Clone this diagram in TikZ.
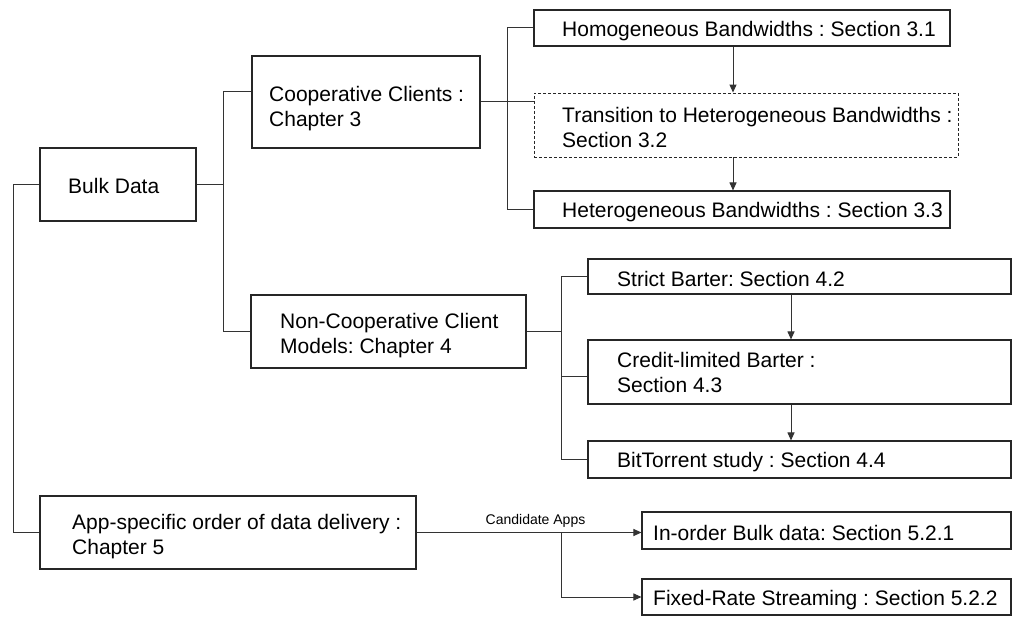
\documentclass[tikz,border=0pt]{standalone}
\usepackage{fontspec}
\setmainfont{Liberation Sans}
\usetikzlibrary{arrows.meta}
\frenchspacing
\begin{document}
\begin{tikzpicture}[x=1pt,y=-1pt,
  box/.style={draw=black!85, line width=1.1pt, inner sep=0pt, fill=white},
  dbox/.style={box, line width=0.9pt, dash pattern=on 3pt off 2pt},
  txt/.style={anchor=west, inner sep=0pt, align=left, font=\fontsize{21}{25}\selectfont},
  small/.style={inner sep=0pt, font=\fontsize{14}{16}\selectfont},
  wire/.style={draw=black!80, line width=1pt},
  arr/.style={wire, -{Triangle[length=8pt,width=7pt]}}]
\useasboundingbox[fill=white] (0,0) rectangle (1012,617);

% chapter level
\node[box, minimum width=156pt, minimum height=73pt] (bulk) at (118,184.5) {};
\node[box, minimum width=228pt, minimum height=92pt] (coop) at (366,102) {};
\node[box, minimum width=275pt, minimum height=73pt] (noncoop) at (388.5,331.5) {};
\node[box, minimum width=376pt, minimum height=73pt] (app) at (228,532.5) {};

% sections of chapter 3
\node[box, minimum width=416pt, minimum height=36pt] (homo) at (742,28) {};
\node[dbox, minimum width=424pt, minimum height=64pt] (trans) at (746,125) {};
\node[box, minimum width=416pt, minimum height=37pt] (hetero) at (742,209.5) {};

% sections of chapter 4
\node[box, minimum width=423pt, minimum height=35pt] (strict) at (799.5,276.5) {};
\node[box, minimum width=423pt, minimum height=64pt] (credit) at (799.5,372) {};
\node[box, minimum width=423pt, minimum height=37pt] (bitt) at (799.5,459.5) {};

% sections of chapter 5
\node[box, minimum width=369pt, minimum height=37pt] (inorder) at (826.5,530.5) {};
\node[box, minimum width=369pt, minimum height=36pt] (fixed) at (826.5,597) {};

% labels
\node[txt] (bulkT) at (68,186) {Bulk Data};
\node[txt] (coopT) at (269,109) {Cooperative Clients :\\Chapter 3};
\node[txt] (noncoopT) at (280,336) {Non-Cooperative Client\\Models: Chapter 4};
\node[txt] (appT) at (72,537) {App-specific order of data delivery :\\Chapter 5};
\node[txt] (homoT) at (562,31) {Homogeneous Bandwidths : Section 3.1};
\node[txt] (transT) at (562,127) {Transition to Heterogeneous Bandwidths :\\Section 3.2};
\node[txt] (heteroT) at (562,212.5) {Heterogeneous Bandwidths : Section 3.3};
\node[txt] (strictT) at (617,279) {Strict Barter: Section 4.2};
\node[txt] (creditT) at (617,372.5) {Credit-limited Barter :\\Section 4.3};
\node[txt] (bittT) at (617,462) {BitTorrent study : Section 4.4};
\node[txt] (inorderT) at (653,533) {In-order Bulk data: Section 5.2.1};
\node[txt] (fixedT) at (653,600) {Fixed-Rate Streaming : Section 5.2.2};

% bus lines of the tree
\coordinate (busL) at (13,0);
\coordinate (busA) at (223,0);
\coordinate (busB) at (507,0);
\coordinate (busC) at (561,0);
\coordinate (busD) at (561,0);
\coordinate (colA) at (733,0);
\coordinate (colB) at (791,0);

\draw[wire] (bulk.west) -- (bulk.west -| busL) |- (app.west);
\draw[wire] (bulk.east) -- (bulk.east -| busA);
\draw[wire] ([yshift=10pt]coop.west) -- ([yshift=10pt]coop.west -| busA) |- (noncoop.west);

\draw[wire] (coop.east) -- (coop.east -| trans.west);
\draw[wire] (homo.west) -- (homo.west -| busB) |- (hetero.west);

\draw[wire] (noncoop.east) -- (noncoop.east -| busC);
\draw[wire] (strict.west) -- (strict.west -| busC) |- (bitt.west);
\draw[wire] ([yshift=-5pt]credit.west -| busC) -- ([yshift=-5pt]credit.west);

% order between sections
\draw[arr] (homo.south -| colA) -- (trans.north -| colA);
\draw[arr] (trans.south -| colA) -- (hetero.north -| colA);
\draw[arr] (strict.south -| colB) -- (credit.north -| colB);
\draw[arr] (credit.south -| colB) -- (bitt.north -| colB);

% candidate applications
\draw[arr] (app.east) -- (app.east -| inorder.west);
\draw[arr] (app.east -| busD) |- (fixed.west);
\node[small] (cand) at (535.5,521) {Candidate Apps};
\end{tikzpicture}
\end{document}
